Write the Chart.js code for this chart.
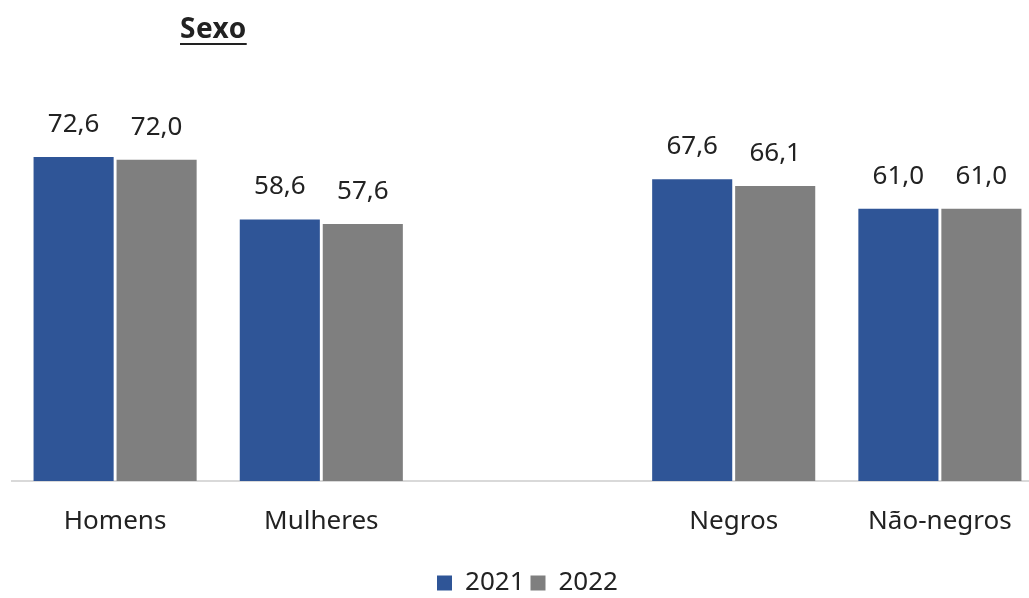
<!DOCTYPE html>
<html>
<head>
<meta charset="utf-8" />
<title>Sexo</title>
<script src="https://cdn.jsdelivr.net/npm/chart.js"></script>
<style>
  body { margin: 0; overflow: hidden; background: #fff; }
  #wrap { position: relative; width: 1045px; height: 606px; }
  #title {
    position: absolute; left: 180px; top: 8px;
    font-family: "Noto Sans", sans-serif; font-weight: bold; font-size: 28px;
    color: #222; text-decoration: underline; text-underline-offset: 5px;
    text-decoration-thickness: 2px; letter-spacing: 0.5px;
  }
</style>
</head>
<body>
<div id="wrap">
  <div id="title">Sexo</div>
  <canvas id="myChart" width="1045" height="606"></canvas>
</div>
<script>
const categories = ['Homens', 'Mulheres', '', 'Negros', 'Não-negros'];
const values2021 = [72.6, 58.6, null, 67.6, 61.0];
const values2022 = [72.0, 57.6, null, 66.1, 61.0];
const seriesLabels = ['2021', '2022'];

const fontFam = '"Noto Sans", sans-serif';

// draws the value above each bar, with a comma as decimal mark
const valueLabels = {
  id: 'valueLabels',
  afterDatasetsDraw(chart) {
    const ctx = chart.ctx;
    ctx.save();
    ctx.font = '26px ' + fontFam;
    ctx.fillStyle = '#222';
    ctx.textAlign = 'center';
    ctx.textBaseline = 'alphabetic';
    chart.data.datasets.forEach((ds, i) => {
      chart.getDatasetMeta(i).data.forEach((bar, j) => {
        const v = ds.data[j];
        if (v == null) return;
        ctx.fillText(v.toFixed(1).replace('.', ','), bar.x, bar.y - 25);
      });
    });
    ctx.restore();
  }
};

new Chart(document.getElementById('myChart'), {
  type: 'bar',
  data: {
    labels: categories,
    datasets: [
      { label: seriesLabels[0], data: values2021, backgroundColor: '#2F5597',
        categoryPercentage: 0.805, barPercentage: 0.965 },
      { label: seriesLabels[1], data: values2022, backgroundColor: '#7F7F7F',
        categoryPercentage: 0.805, barPercentage: 0.965 }
    ]
  },
  options: {
    responsive: false,
    animation: false,
    layout: { padding: { top: 124, left: 12, right: 2, bottom: 0 } },
    scales: {
      x: {
        grid: { display: false },
        border: { color: '#d9d9d9', width: 2 },
        ticks: { color: '#222', font: { family: fontFam, size: 26, lineHeight: 1 }, padding: 20 },
        afterFit(scale) { scale.height += 9; }
      },
      y: { display: false, min: 0, max: 80 }
    },
    plugins: {
      legend: {
        position: 'bottom',
        labels: {
          color: '#222', font: { family: fontFam, size: 26, lineHeight: 1 },
          boxWidth: 15, boxHeight: 15, padding: 6
        }
      },
      tooltip: { enabled: false }
    }
  },
  plugins: [valueLabels]
});
</script>
</body>
</html>
